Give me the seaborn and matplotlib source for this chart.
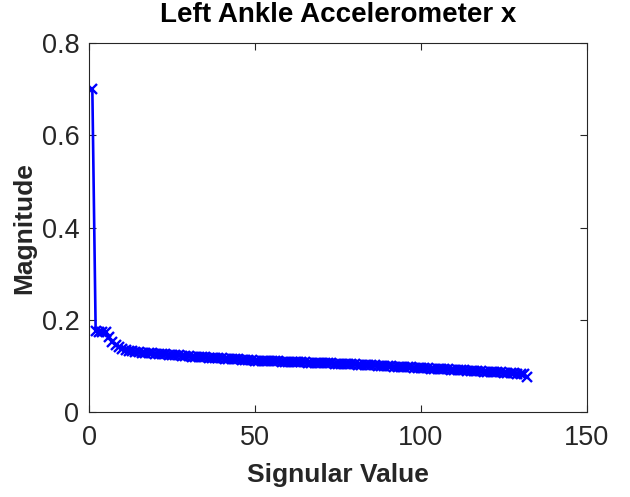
import matplotlib
matplotlib.use("Agg")
import matplotlib.pyplot as plt
import seaborn as sns
import pandas as pd

# Singular values of the left ankle accelerometer (x axis) signal
magnitude = [
    0.700, 0.176, 0.175, 0.174, 0.173, 0.163, 0.152, 0.146, 0.141, 0.137,
    0.135, 0.133, 0.132, 0.131, 0.130, 0.1295, 0.129, 0.1283, 0.1278, 0.1272,
    0.1266, 0.126, 0.1255, 0.125, 0.1244, 0.1238, 0.1232, 0.1226, 0.122, 0.1212,
    0.1208, 0.1203, 0.1199, 0.1194, 0.119, 0.1186, 0.1181, 0.1177, 0.1172, 0.1168,
    0.1163, 0.1159, 0.1155, 0.115, 0.1146, 0.1141, 0.1137, 0.1132, 0.1128, 0.1122,
    0.1119, 0.1116, 0.1113, 0.1111, 0.1108, 0.1105, 0.1102, 0.110, 0.1097, 0.1094,
    0.1091, 0.1089, 0.1086, 0.1083, 0.108, 0.1078, 0.1075, 0.1072, 0.107, 0.1067,
    0.1064, 0.1061, 0.1059, 0.1056, 0.1053, 0.105, 0.1047, 0.1045, 0.1042, 0.1039,
    0.1035, 0.1031, 0.1027, 0.1023, 0.1019, 0.1015, 0.1011, 0.1007, 0.1003, 0.0999,
    0.0995, 0.0991, 0.0987, 0.0983, 0.0979, 0.0975, 0.0971, 0.0967, 0.0963, 0.0959,
    0.0955, 0.0951, 0.0947, 0.0943, 0.0939, 0.0935, 0.0932, 0.0928, 0.0924, 0.092,
    0.0916, 0.0912, 0.0908, 0.0904, 0.090, 0.0896, 0.0892, 0.0888, 0.0884, 0.088,
    0.0876, 0.0872, 0.0868, 0.0864, 0.086, 0.0855, 0.085, 0.0844, 0.0838, 0.0831,
    0.0822, 0.0775,
]
index = list(range(1, len(magnitude) + 1))

x_ticks = [0, 50, 100, 150]
y_ticks = [0, 0.2, 0.4, 0.6, 0.8]
y_tick_labels = ["0", "0.2", "0.4", "0.6", "0.8"]

df = pd.DataFrame({"Signular Value": index, "Magnitude": magnitude})

sns.set_style("white")
plt.rcParams["font.family"] = ["Liberation Sans", "DejaVu Sans"]

fig = plt.figure(figsize=(6.3, 4.97), dpi=100)
ax = fig.add_axes([0.1413, 0.1704, 0.7904, 0.7431])

sns.lineplot(data=df, x="Signular Value", y="Magnitude", ax=ax,
             color=(0, 0, 1), marker="x", markersize=7,
             markeredgecolor=(0, 0, 1), markeredgewidth=1.7, linewidth=1.9)

ax.set_xlim(0, 150)
ax.set_ylim(0, 0.8)
ax.set_xticks(x_ticks)
ax.set_xticklabels([str(t) for t in x_ticks])
ax.set_yticks(y_ticks)
ax.set_yticklabels(y_tick_labels)

axis_grey = (0.15, 0.15, 0.15)
for side in ax.spines.values():
    side.set_visible(True)
    side.set_color(axis_grey)
    side.set_linewidth(0.8)

ax.tick_params(axis="both", which="both", direction="in", length=5, width=0.8,
               color=axis_grey, labelcolor=axis_grey, labelsize=19.5,
               top=True, right=True, bottom=True, left=True)
ax.tick_params(axis="x", pad=9)
ax.tick_params(axis="y", pad=7)

ax.set_xlabel("Signular Value", fontsize=19, fontweight="bold",
              color=axis_grey, labelpad=9)
ax.set_ylabel("Magnitude", fontsize=19, fontweight="bold",
              color=axis_grey, labelpad=4)
ax.set_title("Left Ankle Accelerometer x", fontsize=20, fontweight="bold",
             color="black", pad=15)

fig.savefig("out.png", dpi=100, facecolor="white")
